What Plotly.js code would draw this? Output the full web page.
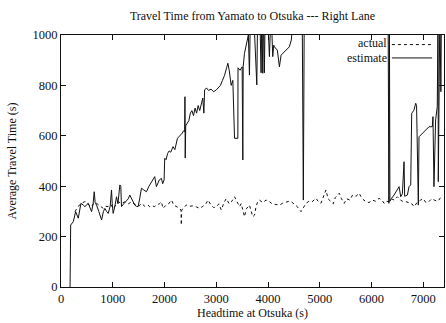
<!DOCTYPE html>
<html>
<head>
<meta charset="utf-8">
<script src="https://cdn.plot.ly/plotly-3.0.1.min.js"></script>
<style>
  html, body { margin: 0; padding: 0; background: #fff; }
  #chart { width: 446px; height: 323px; }
</style>
</head>
<body>
<div id="chart"></div>
<script>
// ---- data ----
const chartTitle = "Travel Time from Yamato to Otsuka --- Right Lane";
const xTitle = "Headtime at Otsuka (s)";
const yTitle = "Average Travel Time (s)";
const seriesNames = ["actual", "estimate"];

const actualX = [270,330,398,450,494,540,591,640,687,740,816,870,912,960,1008,1060,1105,1170,1233,1300,1362,1410,1458,1510,1555,1620,1683,1715,1760,1811,1843,1900,1940,1972,2030,2080,2133,2180,2240,2293,2318,2325,2332,2380,2421,2480,2540,2614,2678,2740,2800,2839,2900,2950,2999,3050,3096,3150,3193,3250,3300,3353,3400,3449,3481,3545,3580,3610,3641,3705,3738,3770,3802,3834,3900,3962,4020,4080,4150,4220,4280,4340,4400,4445,4500,4560,4637,4690,4734,4790,4850,4926,4970,5022,5070,5119,5160,5215,5260,5300,5340,5376,5420,5472,5520,5580,5633,5700,5761,5820,5889,5950,6018,6080,6146,6200,6243,6290,6339,6380,6440,6500,6560,6600,6660,6720,6780,6821,6880,6949,7000,7050,7109,7160,7220,7270,7301,7340,7366];
const actualY = [299,320,332,338,338,325,319,335,332,325,312,320,319,328,312,325,338,332,338,330,338,330,325,322,332,320,325,318,322,319,325,330,338,312,325,330,345,325,318,312,305,246,305,318,325,320,322,318,312,320,330,345,325,315,318,330,306,335,351,330,340,358,340,319,331,279,310,319,325,279,285,320,339,345,335,345,340,330,328,325,332,335,340,339,330,320,299,320,332,340,338,352,340,332,360,385,350,339,330,355,365,372,350,332,350,345,365,360,372,350,339,335,345,340,352,345,332,340,339,350,345,358,345,340,339,335,330,319,335,345,350,335,339,350,345,340,345,355,365];

const estimateX = [175,187,237,283,334,385,430,462,527,560,591,620,642,660,687,730,784,820,848,880,912,950,976,990,1008,1040,1073,1100,1137,1155,1169,1210,1265,1300,1329,1370,1426,1460,1490,1520,1555,1600,1651,1700,1747,1780,1811,1843,1875,1900,1940,1965,1992,2004,2030,2060,2090,2120,2164,2200,2250,2300,2340,2370,2389,2395,2400,2410,2440,2470,2500,2530,2560,2590,2620,2650,2680,2711,2740,2760,2775,2810,2850,2900,2950,3000,3040,3080,3120,3160,3200,3224,3250,3288,3320,3353,3417,3420,3460,3500,3513,3520,3545,3580,3620,3641,3660,3720,3783,3800,3840,3866,3880,3898,3910,3930,3945,3990,4027,4060,4091,4110,4123,4180,4220,4252,4300,4348,4412,4450,4476,4500,4660,4682,4700,6320,6335,6345,6355,6380,6435,6500,6532,6564,6596,6628,6640,6693,6724,6757,6776,6820,6853,6870,6904,6917,6981,7046,7110,7174,7187,7206,7238,7270,7285,7290,7300,7320,7340,7350,7400];
const estimateY = [0,246,259,299,273,332,325,319,332,315,299,330,378,335,325,300,266,300,312,300,292,320,385,330,292,320,358,330,405,400,319,330,345,350,365,345,325,320,319,350,392,385,378,400,418,430,438,398,418,425,431,410,425,511,505,530,540,535,557,545,590,600,610,620,616,755,512,640,650,660,690,700,680,710,690,720,700,729,750,690,782,790,780,785,775,782,790,800,820,840,870,888,860,800,820,590,590,870,860,874,504,874,927,960,1000,841,1100,1100,802,1100,1100,850,1100,848,1100,850,1100,1100,914,1100,914,960,953,940,874,920,930,940,953,980,1020,1100,1100,345,1100,1100,332,1100,340,350,365,385,398,358,370,497,360,365,398,405,689,702,729,720,325,596,610,623,636,636,676,398,663,716,1100,418,769,1100,775,1100,1100];

const xTickVals = [0,1000,2000,3000,4000,5000,6000,7000];
const yTickVals = [0,200,400,600,800,1000];

// ---- chart ----
const serif = "'Liberation Serif', 'DejaVu Serif', serif";
const ink = "#111";

const traces = [
  { x: actualX, y: actualY, name: seriesNames[0], type: "scatter", mode: "lines",
    line: { color: ink, width: 1, dash: "dot" }, showlegend: false },
  { x: estimateX, y: estimateY, name: seriesNames[1], type: "scatter", mode: "lines",
    line: { color: ink, width: 1 }, showlegend: false }
];

const legendTextX = 0.853, legY1 = 0.967, legY2 = 0.910;
const layout = {
  width: 446, height: 323,
  margin: { l: 61, r: 2, t: 35, b: 36 },
  paper_bgcolor: "#fff", plot_bgcolor: "#fff",
  font: { family: serif, size: 12, color: ink },
  title: { text: chartTitle, font: { family: serif, size: 12, color: ink },
           x: 0.5, xref: "paper", y: 1 - 16/323, yref: "container", yanchor: "middle" },
  xaxis: {
    range: [0, 7400], tickvals: xTickVals, ticktext: xTickVals.map(String),
    ticks: "inside", ticklen: 5, tickcolor: ink, showline: true, linecolor: ink, linewidth: 1,
    mirror: "ticks", showgrid: false, zeroline: false,
    tickfont: { family: serif, size: 12.5, color: ink },
    title: { text: xTitle, font: { family: serif, size: 12, color: ink }, standoff: 0 }
  },
  yaxis: {
    range: [0, 1000], tickvals: yTickVals, ticktext: yTickVals.map(String),
    ticks: "inside", ticklen: 5, tickcolor: ink, showline: true, linecolor: ink, linewidth: 1,
    mirror: "ticks", showgrid: false, zeroline: false,
    tickfont: { family: serif, size: 12.5, color: ink },
    title: { text: yTitle, font: { family: serif, size: 12, color: ink }, standoff: 13 }
  },
  annotations: [
    { text: seriesNames[0], xref: "paper", yref: "paper", x: legendTextX, y: legY1,
      xanchor: "right", yanchor: "middle", showarrow: false, borderpad: 0,
      font: { family: serif, size: 12, color: ink } },
    { text: seriesNames[1], xref: "paper", yref: "paper", x: legendTextX, y: legY2,
      xanchor: "right", yanchor: "middle", showarrow: false, borderpad: 0,
      font: { family: serif, size: 12, color: ink } }
  ],
  shapes: [
    { type: "line", xref: "paper", yref: "paper", x0: 0.864, x1: 0.969, y0: 0.962, y1: 0.962,
      line: { color: ink, width: 1, dash: "dot" } },
    { type: "line", xref: "paper", yref: "paper", x0: 0.864, x1: 0.969, y0: 0.909, y1: 0.909,
      line: { color: ink, width: 1 } }
  ]
};

Plotly.newPlot("chart", traces, layout, { displayModeBar: false, staticPlot: true });
</script>
</body>
</html>
